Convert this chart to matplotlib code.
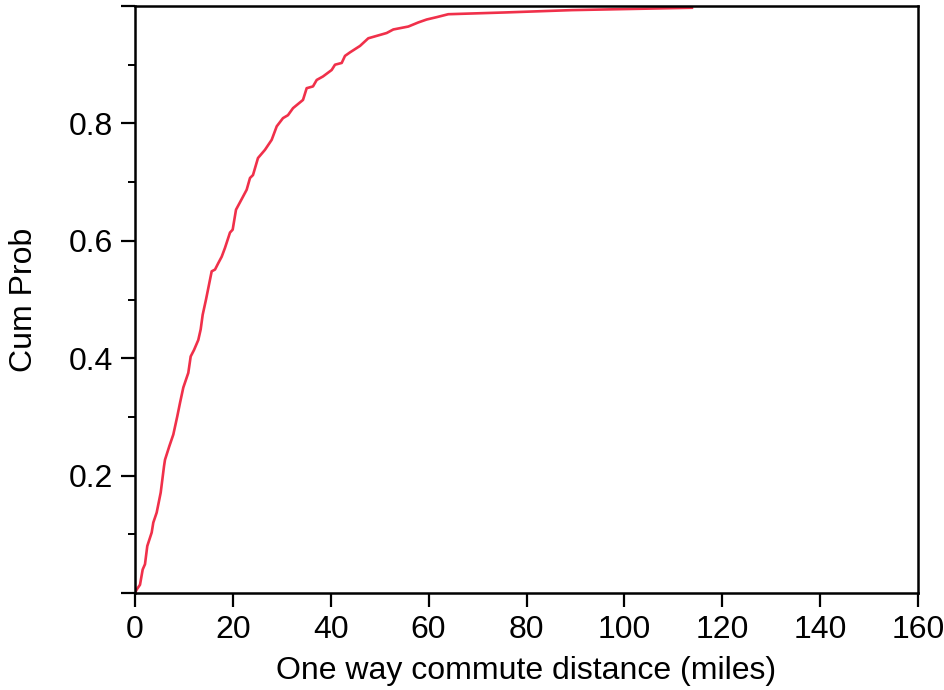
import matplotlib.pyplot as plt
from matplotlib.ticker import FixedLocator, FuncFormatter

distance = [0.0, 0.35, 1.02, 1.57, 2.04, 2.51, 3.41, 3.74, 4.43, 5.25, 5.93,
            6.13, 7.01, 7.83, 8.64, 9.20, 9.87, 10.89, 11.38, 12.06, 12.93,
            13.42, 13.83, 14.51, 15.67, 16.35, 17.02, 17.72, 18.39, 19.41,
            19.96, 20.64, 21.80, 22.82, 23.50, 24.11, 25.13, 26.56, 27.93,
            28.96, 30.24, 31.26, 32.29, 34.33, 35.08, 36.37, 37.13, 38.42,
            40.19, 40.87, 42.24, 42.91, 43.93, 45.98, 47.67, 51.43, 52.78,
            55.85, 57.89, 59.61, 61.65, 64.02, 75.6, 89.3, 113.8]
cum_prob = [0.0, 0.006, 0.014, 0.040, 0.049, 0.080, 0.103, 0.120, 0.137,
            0.171, 0.216, 0.227, 0.250, 0.270, 0.301, 0.324, 0.350, 0.375,
            0.403, 0.414, 0.431, 0.449, 0.474, 0.500, 0.548, 0.551, 0.562,
            0.573, 0.588, 0.614, 0.619, 0.653, 0.671, 0.687, 0.707, 0.712,
            0.741, 0.755, 0.772, 0.795, 0.809, 0.814, 0.826, 0.840, 0.860,
            0.863, 0.874, 0.880, 0.891, 0.900, 0.903, 0.915, 0.921, 0.932,
            0.945, 0.954, 0.960, 0.965, 0.972, 0.977, 0.981, 0.986, 0.989,
            0.993, 0.997]

x_ticks = [0, 20, 40, 60, 80, 100, 120, 140, 160]
y_ticks = [0.0, 0.2, 0.4, 0.6, 0.8, 1.0]
y_minor = [0.1, 0.3, 0.5, 0.7, 0.9]

plt.rcParams['font.family'] = ['Liberation Sans', 'DejaVu Sans']

fig = plt.figure(figsize=(9.45, 6.9), dpi=100)
ax = fig.add_axes([135 / 945, 97 / 690, 783 / 945, 587 / 690])

ax.plot(distance, cum_prob, color='#f0304a', linewidth=1.9)

ax.set_xlim(0, 160)
ax.set_ylim(0, 1.0)

ax.xaxis.set_major_locator(FixedLocator(x_ticks))
ax.yaxis.set_major_locator(FixedLocator(y_ticks))
ax.yaxis.set_minor_locator(FixedLocator(y_minor))
ax.yaxis.set_major_formatter(
    FuncFormatter(lambda v, p: '' if v in (0.0, 1.0) else f'{v:.1f}'))

for s in ax.spines.values():
    s.set_linewidth(1.8)

ax.tick_params(axis='both', which='major', direction='out', length=10,
               width=1.6, labelsize=23, pad=6)
ax.tick_params(axis='y', which='minor', direction='out', length=5, width=1.4)

ax.set_xlabel('One way commute distance (miles)', fontsize=23, labelpad=8)
ax.set_ylabel('Cum Prob', fontsize=23, labelpad=21)

fig.savefig('out.png', dpi=100, facecolor='white')
